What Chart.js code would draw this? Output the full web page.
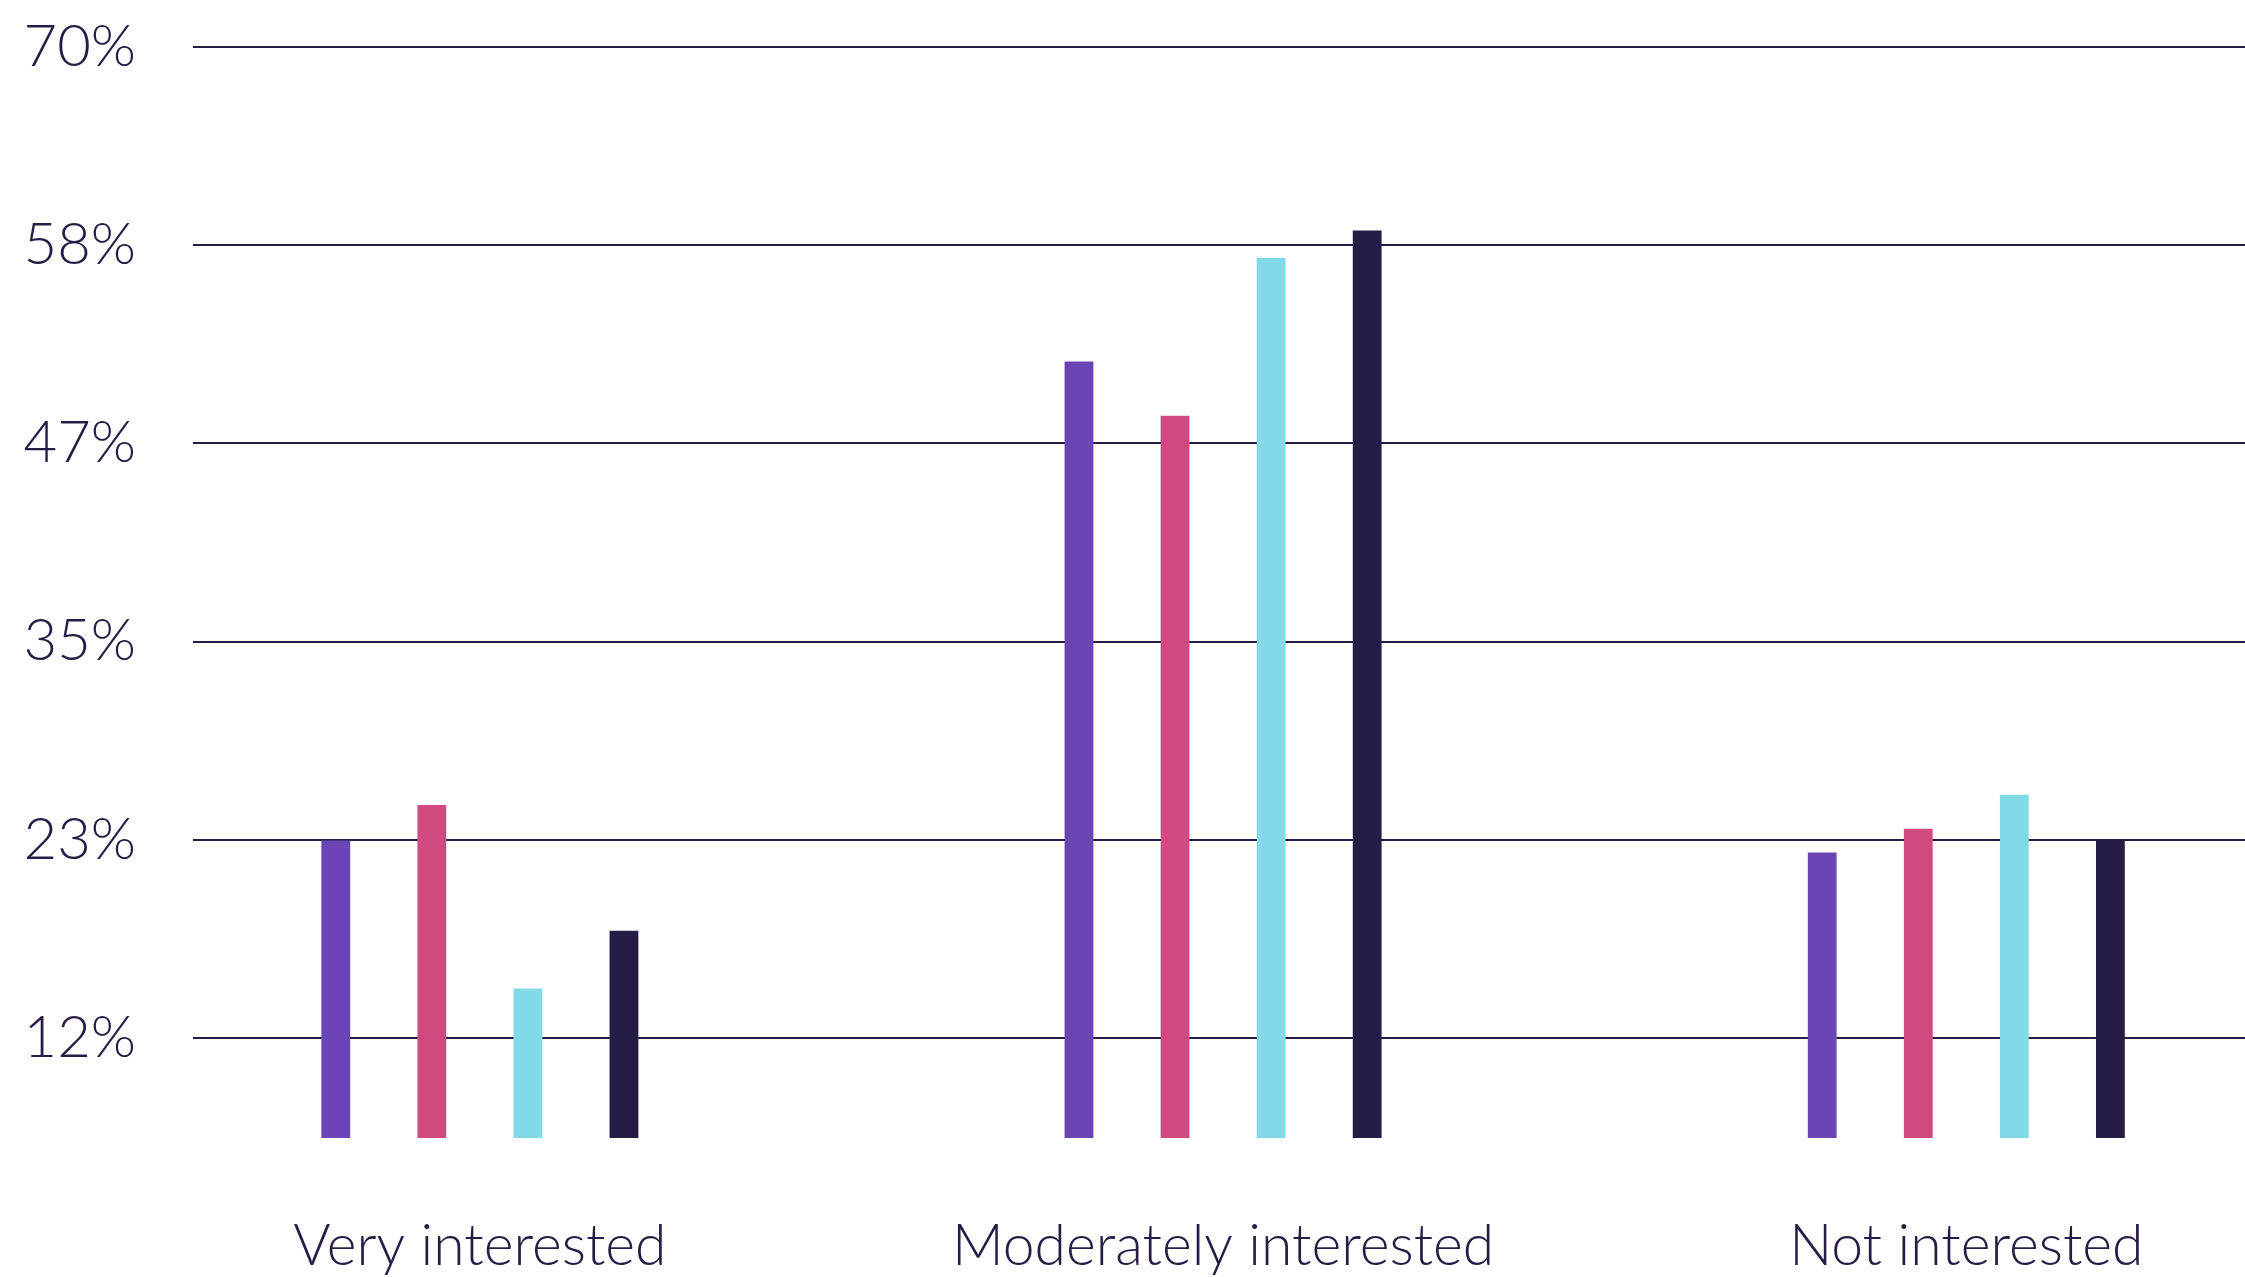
<!DOCTYPE html>
<html>
<head>
<meta charset="utf-8">
<script src="https://cdn.jsdelivr.net/npm/chart.js@4.4.1/dist/chart.umd.min.js"></script>
<style>
	html, body { margin: 0; padding: 0; background: #ffffff; }
	#wrap { width: 2245px; height: 1277px; position: relative; }
</style>
</head>
<body>
<div id="wrap"><canvas id="interestChart"></canvas></div>
<script>
// 데이터
const categories = ['Very interested', 'Moderately interested', 'Not interested'];
const seriesPurple = [23.3, 51.5, 22.6];
const seriesPink = [25.4, 48.3, 24.0];
const seriesCyan = [14.6, 57.6, 26.0];
const seriesDark = [18.0, 59.2, 23.3];
const yTickValues = [11.67, 23.33, 35, 46.67, 58.33, 70];
const yTickLabels = ['12%', '23%', '35%', '47%', '58%', '70%'];

const textColor = '#261c46';
const fontFamily = 'Lato, "Open Sans", sans-serif';

const InterestChart = {
	chart: null,

	init: function() {
		const ctx = document.getElementById('interestChart');
		this.chart = new Chart(ctx, {
			type: 'bar',
			data: {
				datasets: [
					this.makeDataset('Series 1', seriesPurple, '#6a45b3'),
					this.makeDataset('Series 2', seriesPink, '#d04a7f'),
					this.makeDataset('Series 3', seriesCyan, '#82d9e8'),
					this.makeDataset('Series 4', seriesDark, '#261c46')
				]
			},
			options: this.getChartOptions()
		});
	},

	// 카테고리 인덱스를 x 값으로 사용
	makeDataset: function(label, values, color) {
		return {
			label: label,
			data: values.map((v, i) => ({ x: i, y: v })),
			backgroundColor: color,
			borderWidth: 0,
			categoryPercentage: 0.517,
			barPercentage: 0.3
		};
	},

	getChartOptions: function() {
		return {
			responsive: true,
			maintainAspectRatio: false,
			animation: false,
			layout: { padding: 0 },
			scales: {
				x: {
					type: 'linear',
					offset: false,
					min: -0.386,
					max: 2.375,
					afterBuildTicks: axis => {
						axis.ticks = categories.map((c, i) => ({ value: i }));
					},
					afterFit: axis => { axis.height = 139; },
					grid: { display: false, drawTicks: false },
					border: { display: false },
					ticks: {
						autoSkip: false,
						maxRotation: 0,
						padding: 74,
						color: textColor,
						font: { family: fontFamily, size: 57, weight: '300' },
						callback: (value, index) => categories[index]
					}
				},
				y: {
					min: 5.8,
					max: 70,
					afterBuildTicks: axis => {
						axis.ticks = yTickValues.map(v => ({ value: v }));
					},
					// 라벨 간격(padding) 때문에 위쪽 여백이 커지는 것을 보정
					afterFit: axis => {
						axis.width = 193;
						axis.paddingTop = 47;
						axis.paddingBottom = 0;
					},
					grid: { color: textColor, lineWidth: 2, drawTicks: false },
					border: { display: false },
					ticks: {
						padding: 57,
						color: textColor,
						font: { family: fontFamily, size: 58, weight: '300' },
						callback: (value, index) => yTickLabels[index]
					}
				}
			},
			plugins: {
				legend: { display: false },
				tooltip: { enabled: false },
				title: { display: false }
			}
		};
	}
};

InterestChart.init();
</script>
</body>
</html>
